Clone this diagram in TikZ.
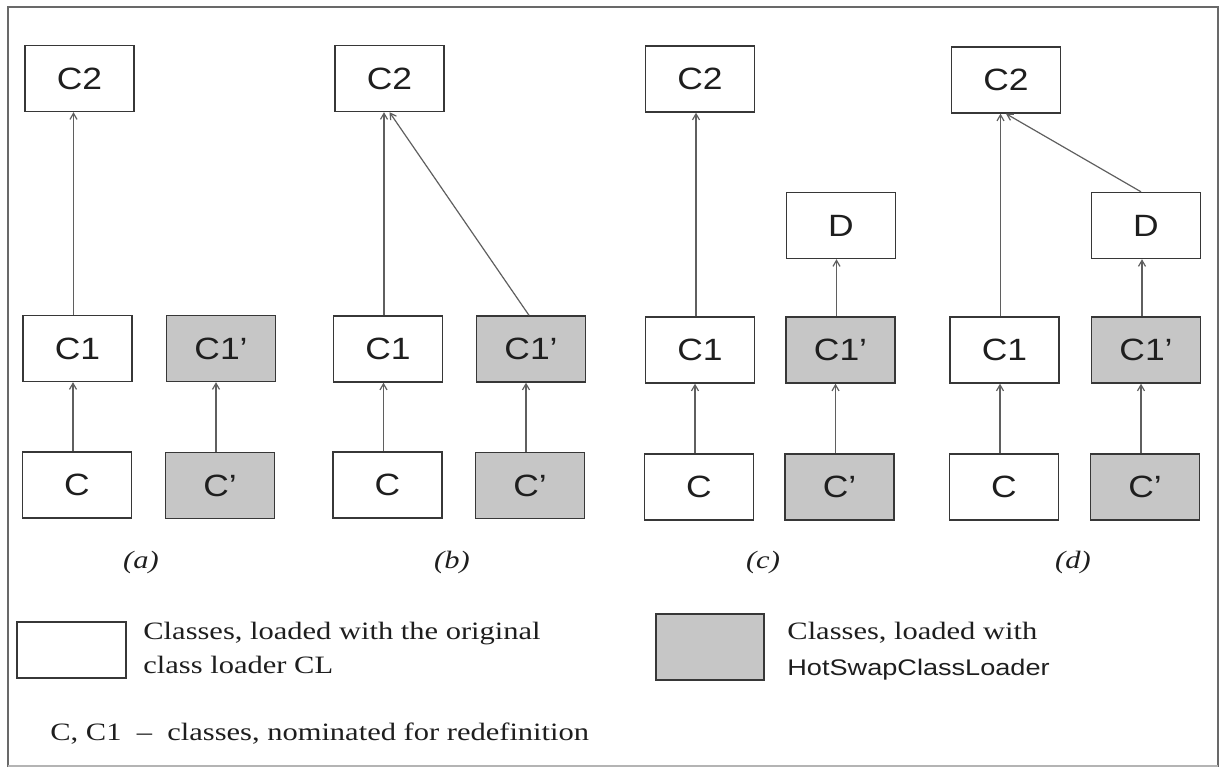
\documentclass[tikz,border=0pt]{standalone}
\usepackage{fontspec}
\setmainfont{Liberation Serif}[FakeStretch=1.22]
\newfontfamily\boxfont{Liberation Sans}[FakeStretch=1.15]
\newfontfamily\legsans{Liberation Sans}[FakeStretch=1.2]
\usetikzlibrary{arrows.meta}
\definecolor{boxgray}{RGB}{198,198,198}
\definecolor{edgec}{RGB}{55,55,55}
\definecolor{linkc}{RGB}{95,95,95}
\definecolor{framec}{RGB}{105,105,105}
\definecolor{inkc}{RGB}{30,30,30}
\begin{document}
\begin{tikzpicture}[x=0.5pt,y=-0.5pt,
  clsbox/.style={draw=edgec, line width=0.7pt, minimum width=54.5pt, minimum height=33pt,
    inner sep=0pt, text=inkc, font=\boxfont\fontsize{15.4}{18}\selectfont},
  plainbox/.style={clsbox, fill=white},
  hotbox/.style={clsbox, fill=boxgray},
  linkarr/.style={draw=linkc, line width=0.6pt, -{Straight Barb[length=3pt,width=3.5pt]}},
  subcap/.style={font=\itshape\fontsize{12.5}{15}\selectfont, text=inkc, inner sep=0pt, anchor=base},
  legtxt/.style={font=\fontsize{12.5}{15}\selectfont, text=inkc, inner sep=0pt, anchor=base west},
]
\useasboundingbox (0,0) rectangle (1221,767);

% outer frame
\draw[framec, line width=0.8pt] (8,767) -- (8,7) -- (1218,7) -- (1218,767);
\draw[framec!50, line width=0.6pt] (8,766) -- (1218,766);

% (a)
\node[plainbox] (C2a)  at (79.5,78.5) {C2};
\node[plainbox] (C1a)  at (77.5,348.5) {C1};
\node[hotbox]   (C1pa) at (221,348.5) {C1’};
\node[plainbox] (Ca)   at (77,485) {C};
\node[hotbox]   (Cpa)  at (220,485.5) {C’};
\draw[linkarr] ([xshift=-2pt]Ca.north) -- ([xshift=-2pt]Ca.north |- C1a.south);
\draw[linkarr] ([xshift=-2pt]C1a.north) -- ([xshift=-2pt]C1a.north |- C2a.south);
\draw[linkarr] ([xshift=-2pt]Cpa.north) -- ([xshift=-2pt]Cpa.north |- C1pa.south);
\node[subcap] (capa) at (141,568) {(a)};

% (b)
\node[plainbox] (C2b)  at (389.5,78.5) {C2};
\node[plainbox] (C1b)  at (388,349) {C1};
\node[hotbox]   (C1pb) at (531,349) {C1’};
\node[plainbox] (Cb)   at (387.5,485) {C};
\node[hotbox]   (Cpb)  at (530,485.5) {C’};
\draw[linkarr] ([xshift=-2pt]Cb.north) -- ([xshift=-2pt]Cb.north |- C1b.south);
\draw[linkarr] ([xshift=-2pt]C1b.north) -- ([xshift=-2pt]C1b.north |- C2b.south);
\draw[linkarr] ([xshift=-2pt]Cpb.north) -- ([xshift=-2pt]Cpb.north |- C1pb.south);
\draw[linkarr] ([xshift=-1pt]C1pb.north) -- (C2b.south);
\node[subcap] (capb) at (452,568) {(b)};

% (c)
\node[plainbox] (C2c)  at (700,79) {C2};
\node[plainbox] (Dc)   at (841,225.5) {D};
\node[plainbox] (C1c)  at (700,350) {C1};
\node[hotbox]   (C1pc) at (840.5,350) {C1’};
\node[plainbox] (Cc)   at (699,487) {C};
\node[hotbox]   (Cpc)  at (839.5,487) {C’};
\draw[linkarr] ([xshift=-2pt]Cc.north) -- ([xshift=-2pt]Cc.north |- C1c.south);
\draw[linkarr] ([xshift=-2pt]C1c.north) -- ([xshift=-2pt]C1c.north |- C2c.south);
\draw[linkarr] ([xshift=-2pt]Cpc.north) -- ([xshift=-2pt]Cpc.north |- C1pc.south);
\draw[linkarr] ([xshift=-2pt]C1pc.north) -- ([xshift=-2pt]C1pc.north |- Dc.south);
\node[subcap] (capc) at (763,568) {(c)};

% (d)
\node[plainbox] (C2d)  at (1006,80) {C2};
\node[plainbox] (Dd)   at (1146,225.5) {D};
\node[plainbox] (C1d)  at (1004.5,350) {C1};
\node[hotbox]   (C1pd) at (1146,350) {C1’};
\node[plainbox] (Cd)   at (1004,487) {C};
\node[hotbox]   (Cpd)  at (1145,487) {C’};
\draw[linkarr] ([xshift=-2pt]Cd.north) -- ([xshift=-2pt]Cd.north |- C1d.south);
\draw[linkarr] ([xshift=-2pt]C1d.north) -- ([xshift=-2pt]C1d.north |- C2d.south);
\draw[linkarr] ([xshift=-2pt]Cpd.north) -- ([xshift=-2pt]Cpd.north |- C1pd.south);
\draw[linkarr] ([xshift=-2pt]C1pd.north) -- ([xshift=-2pt]C1pd.north |- Dd.south);
\draw[linkarr] ([xshift=-2.5pt]Dd.north) -- (C2d.south);
\node[subcap] (capd) at (1073,568) {(d)};

% legend
\node[plainbox, minimum height=28pt] (legW) at (71.5,650) {};
\node[legtxt] (legW1) at (143,639) {Classes, loaded with the original};
\node[legtxt] (legW2) at (143,673) {class loader CL};
\node[hotbox, minimum width=54pt] (legG) at (710,647) {};
\node[legtxt] (legG1) at (787,639) {Classes, loaded with};
\node[legtxt, font=\legsans\fontsize{11.3}{14}\selectfont] (legG2) at (787,675) {HotSwapClassLoader};
\node[legtxt] (note) at (50,740) {C, C1 \ – \ classes, nominated for redefinition};
\end{tikzpicture}
\end{document}
